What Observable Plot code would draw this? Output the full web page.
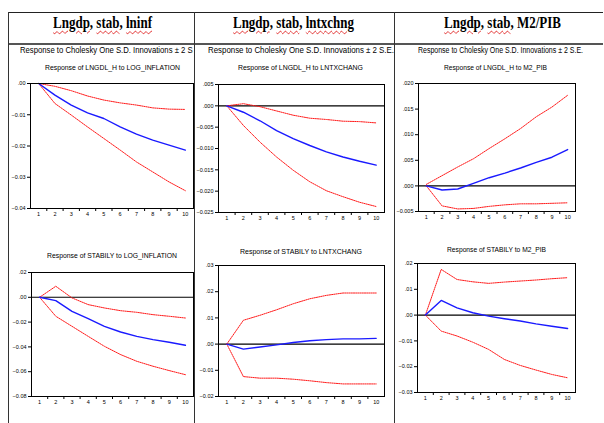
<!DOCTYPE html>
<html><head><meta charset="utf-8">
<script src="https://cdn.jsdelivr.net/npm/d3@7"></script>
<script src="https://cdn.jsdelivr.net/npm/@observablehq/plot@0.6"></script>
<style>
html,body{margin:0;padding:0;background:#fff}
body{width:604px;height:423px;overflow:hidden;position:relative;font-family:"Liberation Sans",Arial,sans-serif;color:#000}
.ln{position:absolute;background:#222}
.txt{position:absolute;white-space:nowrap;transform-origin:0 50%;line-height:1}
.clip{position:absolute;overflow:hidden}
.sq{text-decoration:underline wavy #e02020;text-decoration-thickness:1px;text-underline-offset:2px}
svg.p{position:absolute}
</style>
</head><body>
<script>
// ---------------- data ----------------
const periods = [1,2,3,4,5,6,7,8,9,10];

const headers = ["Lngdp, stab, lninf", "Lngdp, stab, lntxchng", "Lngdp, stab, M2/PIB"];
const cholesky = "Response to Cholesky One S.D. Innovations \u00b1 2 S.E.";
const panelTitles = [
  "Response of LNGDL_H to LOG_INFLATION",
  "Response of LNGDL_H to LNTXCHANG",
  "Response of LNGDL_H to M2_PIB",
  "Response of STABILY to LOG_INFLATION",
  "Response of STABILY to LNTXCHANG",
  "Response of STABILY to M2_PIB"
];

// Panel 1: LNGDL_H to LOG_INFLATION
const gdpInf   = [0, -0.0037, -0.0069, -0.0094, -0.0112, -0.0139, -0.0162, -0.0181, -0.0197, -0.0213];
const gdpInfUp = [0, -0.0009, -0.0023, -0.0040, -0.0053, -0.0062, -0.0069, -0.0078, -0.0082, -0.0083];
const gdpInfLo = [0, -0.0064, -0.0101, -0.0139, -0.0176, -0.0213, -0.0251, -0.0283, -0.0315, -0.0343];
const yTicks1 = [0, -0.01, -0.02, -0.03, -0.04];

// Panel 2: LNGDL_H to LNTXCHANG
const gdpTx   = [0, -0.0015, -0.0035, -0.0058, -0.0077, -0.0093, -0.0108, -0.0120, -0.0130, -0.0139];
const gdpTxUp = [0, 0.0005, -0.0002, -0.0012, -0.0022, -0.0029, -0.0032, -0.0036, -0.0037, -0.0040];
const gdpTxLo = [0, -0.0046, -0.0085, -0.0120, -0.0151, -0.0178, -0.0199, -0.0213, -0.0226, -0.0236];
const yTicks2 = [0.005, 0, -0.005, -0.010, -0.015, -0.020, -0.025];

// Panel 3: LNGDL_H to M2_PIB
const gdpM2   = [0, -0.0008, -0.0006, 0.0005, 0.0016, 0.0025, 0.0035, 0.0046, 0.0056, 0.0071];
const gdpM2Up = [0.0003, 0.0020, 0.0037, 0.0053, 0.0073, 0.0092, 0.0112, 0.0135, 0.0154, 0.0177];
const gdpM2Lo = [0, -0.0039, -0.0045, -0.0044, -0.0040, -0.0037, -0.0035, -0.0035, -0.0034, -0.0033];
const yTicks3 = [0.020, 0.015, 0.010, 0.005, 0, -0.005];

// Panel 4: STABILY to LOG_INFLATION
const stInf   = [0, -0.0027, -0.0113, -0.0172, -0.0234, -0.0280, -0.0315, -0.0341, -0.0363, -0.0387];
const stInfUp = [0, 0.0089, -0.0005, -0.0059, -0.0086, -0.0108, -0.0121, -0.0140, -0.0153, -0.0167];
const stInfLo = [0, -0.0153, -0.0234, -0.0315, -0.0395, -0.0462, -0.0516, -0.0556, -0.0591, -0.0624];
const yTicks4 = [0.02, 0, -0.02, -0.04, -0.06, -0.08];

// Panel 5: STABILY to LNTXCHANG
const stTx   = [0, -0.0019, -0.0011, -0.0003, 0.0006, 0.0013, 0.0017, 0.0020, 0.0020, 0.0022];
const stTxUp = [0, 0.0091, 0.0110, 0.0131, 0.0154, 0.0173, 0.0186, 0.0195, 0.0195, 0.0195];
const stTxLo = [0, -0.0124, -0.0130, -0.0130, -0.0134, -0.0140, -0.0147, -0.0152, -0.0152, -0.0152];
const yTicks5 = [0.03, 0.02, 0.01, 0, -0.01, -0.02];

// Panel 6: STABILY to M2_PIB
const stM2   = [0, 0.0057, 0.0028, 0.0009, -0.0004, -0.0014, -0.0023, -0.0034, -0.0043, -0.0052];
const stM2Up = [0, 0.0177, 0.0138, 0.0129, 0.0123, 0.0128, 0.0132, 0.0136, 0.0141, 0.0145];
const stM2Lo = [0, -0.0062, -0.0081, -0.0105, -0.0133, -0.0172, -0.0195, -0.0213, -0.0230, -0.0243];
const yTicks6 = [0.02, 0.01, 0, -0.01, -0.02, -0.03];

// ---------------- layout ----------------
function line(x, y, w, h, color) {
  const d = document.createElement("div");
  d.className = "ln";
  Object.assign(d.style, {left: x + "px", top: y + "px", width: w + "px", height: h + "px"});
  if (color) d.style.background = color;
  document.body.appendChild(d);
}
line(8, 12, 595, 1, "#222");
line(8, 43, 595, 1.5, "#555");
line(8, 12, 1, 411, "#333");
line(193.5, 12, 1, 411, "#333");
line(394, 12, 1, 411, "#333");

function addText(html, o, parent) {
  const el = document.createElement("div");
  el.className = "txt";
  el.innerHTML = html;
  el.style.fontSize = o.size + "px";
  el.style.fontFamily = o.family || '"Liberation Sans", Arial, sans-serif';
  if (o.weight) el.style.fontWeight = o.weight;
  (parent || document.body).appendChild(el);
  const bw = el.getBoundingClientRect().width;
  const px = parent ? o.x - parseFloat(parent.style.left) : o.x;
  const py = parent ? o.y - parseFloat(parent.style.top) : o.y;
  el.style.left = px + "px";
  el.style.top = (py - o.size / 2) + "px";
  el.style.transform = `scaleX(${o.w / bw})`;
  return el;
}
function squiggle(str, n) {
  const parts = str.split(" ");
  return parts.map((p, i) => {
    const word = p.replace(/,$/, "");
    const comma = p.endsWith(",") ? "," : "";
    return (i < n ? `<span class="sq">${word}</span>` : word) + comma;
  }).join(" ");
}
const serif = '"Liberation Serif", "Times New Roman", serif';
addText(squiggle(headers[0], 3), {x: 53, y: 22, w: 99, size: 17, family: serif, weight: "bold"});
addText(squiggle(headers[1], 3), {x: 233, y: 22, w: 121, size: 17, family: serif, weight: "bold"});
addText(squiggle(headers[2], 2), {x: 444, y: 22, w: 117, size: 17, family: serif, weight: "bold"});

const clip1 = document.createElement("div");
clip1.className = "clip";
Object.assign(clip1.style, {left: "9px", top: "44px", width: "184px", height: "14px"});
document.body.appendChild(clip1);
addText(cholesky, {x: 20, y: 50, w: 182, size: 9.5}, clip1);
addText(cholesky, {x: 208, y: 50, w: 186, size: 9.5});
addText(cholesky, {x: 418, y: 50, w: 165, size: 8.5});

const fmt = dec => d => {
  const s = d3.format(`.${dec}f`)(Math.abs(d) < 1e-12 ? 0 : d);
  return s.replace(/^(-?)0\./, "$1.");
};

const panels = [
  {title: panelTitles[0], tx: 45, ty: 68, tw: 135, resp: gdpInf, up: gdpInfUp, lo: gdpInfLo, ticks: yTicks1, dec: 2, domain: [-0.04, 0], fx0: 30, fx1: 193, fy0: 83, fy1: 208},
  {title: panelTitles[1], tx: 238, ty: 68, tw: 125, resp: gdpTx, up: gdpTxUp, lo: gdpTxLo, ticks: yTicks2, dec: 3, domain: [-0.025, 0.005], fx0: 218, fx1: 384, fy0: 84, fy1: 212},
  {title: panelTitles[2], tx: 444, ty: 68, tw: 103, resp: gdpM2, up: gdpM2Up, lo: gdpM2Lo, ticks: yTicks3, dec: 3, domain: [-0.005, 0.020], fx0: 418, fx1: 575, fy0: 83, fy1: 211},
  {title: panelTitles[3], tx: 47, ty: 256, tw: 130, resp: stInf, up: stInfUp, lo: stInfLo, ticks: yTicks4, dec: 2, domain: [-0.08, 0.02], fx0: 31, fx1: 193, fy0: 272, fy1: 396},
  {title: panelTitles[4], tx: 240, ty: 252, tw: 122, resp: stTx, up: stTxUp, lo: stTxLo, ticks: yTicks5, dec: 2, domain: [-0.02, 0.03], fx0: 218, fx1: 384, fy0: 265, fy1: 396},
  {title: panelTitles[5], tx: 447, ty: 250, tw: 99, resp: stM2, up: stM2Up, lo: stM2Lo, ticks: yTicks6, dec: 2, domain: [-0.03, 0.02], fx0: 417, fx1: 575, fy0: 263, fy1: 392}
];

const halfTicks = [1.5, 2.5, 3.5, 4.5, 5.5, 6.5, 7.5, 8.5, 9.5];
const mL = 30, mR = 4, mT = 4, mB = 14;

for (const c of panels) {
  addText(c.title, {x: c.tx, y: c.ty, w: c.tw, size: 7.5});
  const rows = arr => periods.map((p, i) => ({p, v: arr[i]}));
  const w = c.fx1 - c.fx0, h = c.fy1 - c.fy0;
  const svg = Plot.plot({
    width: w + mL + mR,
    height: h + mT + mB,
    marginLeft: mL, marginRight: mR, marginTop: mT, marginBottom: mB,
    x: {domain: [0.5, 10.5], label: null},
    y: {domain: c.domain, label: null},
    style: "font-family:'Liberation Sans',Arial,sans-serif;font-size:5.5px;background:transparent;overflow:visible;max-width:none;color:#000",
    marks: [
      Plot.ruleY([0], {stroke: "#000", strokeWidth: 1.1}),
      Plot.line(rows(c.up), {x: "p", y: "v", stroke: "#ff1a1a", strokeWidth: 1, strokeDasharray: "1.2,1"}),
      Plot.line(rows(c.lo), {x: "p", y: "v", stroke: "#ff1a1a", strokeWidth: 1, strokeDasharray: "1.2,1"}),
      Plot.line(rows(c.resp), {x: "p", y: "v", stroke: "#1a1aff", strokeWidth: 1.4}),
      Plot.frame({stroke: "#000", strokeWidth: 1}),
      Plot.axisY({ticks: c.ticks, tickFormat: fmt(c.dec), tickSize: 3, tickPadding: 2, stroke: "#000", fill: "#000", label: null}),
      Plot.axisX({ticks: halfTicks, tickFormat: () => "", tickSize: 3, stroke: "#000", label: null}),
      Plot.axisX({ticks: periods, tickFormat: d => String(d), tickSize: 0, tickPadding: 4, fill: "#000", label: null})
    ]
  });
  svg.classList.add("p");
  svg.style.left = (c.fx0 - mL) + "px";
  svg.style.top = (c.fy0 - mT) + "px";
  document.body.appendChild(svg);
}
</script>
</body></html>
